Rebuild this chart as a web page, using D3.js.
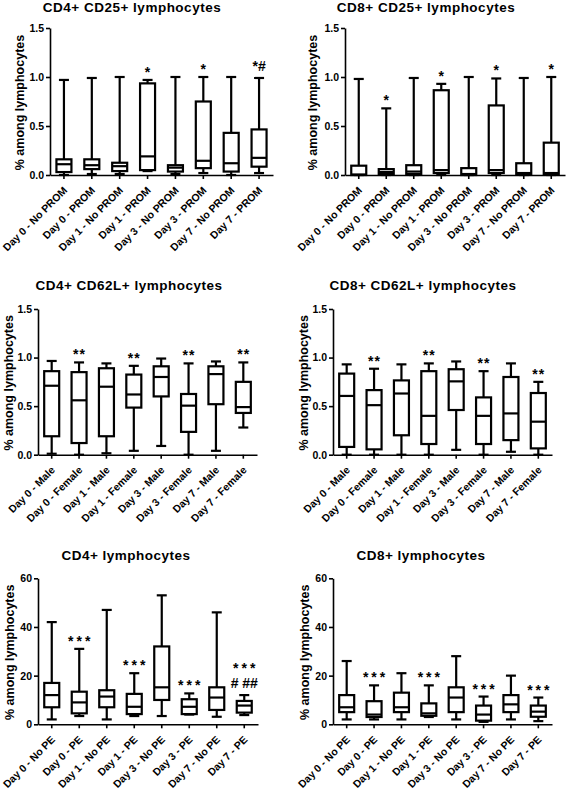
<!DOCTYPE html>
<html><head><meta charset="utf-8">
<script src="https://cdn.jsdelivr.net/npm/d3@7"></script>
<style>body{margin:0;background:#fff}svg{display:block}</style>
</head><body>
<svg id="c" width="567" height="791"></svg>
<script>
// ---------- categories ----------
const catsPROM = ["Day 0 - No PROM","Day 0 - PROM","Day 1 - No PROM","Day 1 - PROM","Day 3 - No PROM","Day 3 - PROM","Day 7 - No PROM","Day 7 - PROM"];
const catsSex  = ["Day 0 - Male","Day 0 - Female","Day 1 - Male","Day 1 - Female","Day 3 - Male","Day 3 - Female","Day 7 - Male","Day 7 - Female"];
const catsPE   = ["Day 0 - No PE","Day 0 - PE","Day 1 - No PE","Day 1 - PE","Day 3 - No PE","Day 3 - PE","Day 7 - No PE","Day 7 - PE"];

// ---------- tick values ----------
const ticksFrac = [0, 0.5, 1.0, 1.5];
const ticksPct  = [0, 20, 40, 60];

// ---------- CD4+ CD25+ ----------
const cd4cd25Min = [0.00, 0.01, 0.01, 0.04, 0.01, 0.02, 0.00, 0.02];
const cd4cd25Q1  = [0.03, 0.06, 0.04, 0.05, 0.035, 0.07, 0.035, 0.085];
const cd4cd25Med = [0.11, 0.10, 0.09, 0.19, 0.075, 0.145, 0.12, 0.175];
const cd4cd25Q3  = [0.16, 0.16, 0.125, 0.935, 0.10, 0.75, 0.43, 0.465];
const cd4cd25Max = [0.97, 0.99, 1.00, 0.97, 1.00, 1.00, 1.00, 0.99];
const cd4cd25Sig = ["", "", "", "*", "", "*", "", "*#"];

// ---------- CD8+ CD25+ ----------
const cd8cd25Min = [0, 0, 0, 0, 0, 0, 0, 0];
const cd8cd25Q1  = [0.0, 0.01, 0.01, 0.02, 0.0, 0.02, 0.005, 0.005];
const cd8cd25Med = [0.005, 0.03, 0.035, 0.05, 0.01, 0.05, 0.02, 0.02];
const cd8cd25Q3  = [0.095, 0.06, 0.10, 0.865, 0.07, 0.71, 0.12, 0.33];
const cd8cd25Max = [0.98, 0.68, 0.99, 0.93, 1.00, 0.985, 0.99, 1.00];
const cd8cd25Sig = ["", "*", "", "*", "", "*", "", "*"];

// ---------- CD4+ CD62L+ ----------
const cd4cd62Min = [0.01, 0.0, 0.015, 0.04, 0.09, 0.0, 0.04, 0.28];
const cd4cd62Q1  = [0.19, 0.12, 0.19, 0.485, 0.60, 0.235, 0.52, 0.43];
const cd4cd62Med = [0.71, 0.56, 0.70, 0.62, 0.80, 0.505, 0.83, 0.49];
const cd4cd62Q3  = [0.86, 0.85, 0.89, 0.825, 0.91, 0.625, 0.91, 0.75];
const cd4cd62Max = [0.965, 0.95, 0.94, 0.915, 0.99, 0.94, 0.96, 0.95];
const cd4cd62Sig = ["", "**", "", "**", "", "**", "", "**"];

// ---------- CD8+ CD62L+ ----------
const cd8cd62Min = [0.0, 0.0, 0.0, 0.0, 0.05, 0.0, 0.03, 0.0];
const cd8cd62Q1  = [0.08, 0.055, 0.20, 0.11, 0.46, 0.11, 0.15, 0.065];
const cd8cd62Med = [0.605, 0.51, 0.63, 0.40, 0.755, 0.40, 0.425, 0.34];
const cd8cd62Q3  = [0.835, 0.665, 0.765, 0.86, 0.88, 0.59, 0.80, 0.635];
const cd8cd62Max = [0.93, 0.885, 0.93, 0.94, 0.96, 0.86, 0.94, 0.75];
const cd8cd62Sig = ["", "**", "", "**", "", "**", "", "**"];

// ---------- CD4+ ----------
const cd4Min = [2, 3.4, 2, 3.4, 3.4, 4, 3.1, 3.8];
const cd4Q1  = [7, 4.5, 7, 4.2, 10, 4.2, 5.9, 4.8];
const cd4Med = [12, 9, 11.4, 7.2, 15.2, 7.2, 11, 7.7];
const cd4Q3  = [17, 13.4, 14, 12.5, 32, 10.3, 15.2, 9.6];
const cd4Max = [42, 31, 47, 21, 53, 12.7, 46, 12];
const cd4Sig = ["", "***", "", "***", "", "***", "", "***\n# ##"];

// ---------- CD8+ ----------
const cd8Min = [2, 2, 2, 3, 2, 1, 2, 1.3];
const cd8Q1  = [5, 3, 5, 3.5, 5, 1.5, 5, 3.1];
const cd8Med = [7, 4, 7, 4.5, 11, 4, 8.2, 5.2];
const cd8Q3  = [12, 9.5, 13, 8.6, 15.2, 7.7, 12, 7.7];
const cd8Max = [26, 16, 21, 16, 28, 11.4, 20, 11];
const cd8Sig = ["", "***", "", "***", "", "***", "", "***"];

const yLabel = "% among lymphocytes";

const panels = [
  {title:"CD4+ CD25+ lymphocytes", cats:catsPROM, mn:cd4cd25Min, q1:cd4cd25Q1, md:cd4cd25Med, q3:cd4cd25Q3, mx:cd4cd25Max, sig:cd4cd25Sig, ticks:ticksFrac, fmt:".1f",
   x0:50, x1:273, yTop:28, yBot:175, tx:132, ty:12, lx:20, ls:1},
  {title:"CD8+ CD25+ lymphocytes", cats:catsPROM, mn:cd8cd25Min, q1:cd8cd25Q1, md:cd8cd25Med, q3:cd8cd25Q3, mx:cd8cd25Max, sig:cd8cd25Sig, ticks:ticksFrac, fmt:".1f",
   x0:345, x1:565, yTop:28, yBot:175, tx:426, ty:12, lx:313, ls:1},
  {title:"CD4+ CD62L+ lymphocytes", cats:catsSex, mn:cd4cd62Min, q1:cd4cd62Q1, md:cd4cd62Med, q3:cd4cd62Q3, mx:cd4cd62Max, sig:cd4cd62Sig, ticks:ticksFrac, fmt:".1f",
   x0:38, x1:257, yTop:309, yBot:454.7, tx:129, ty:290, lx:9, ls:1},
  {title:"CD8+ CD62L+ lymphocytes", cats:catsSex, mn:cd8cd62Min, q1:cd8cd62Q1, md:cd8cd62Med, q3:cd8cd62Q3, mx:cd8cd62Max, sig:cd8cd62Sig, ticks:ticksFrac, fmt:".1f",
   x0:333, x1:552, yTop:309, yBot:454.7, tx:423, ty:290, lx:304, ls:1},
  {title:"CD4+ lymphocytes", cats:catsPE, mn:cd4Min, q1:cd4Q1, md:cd4Med, q3:cd4Q3, mx:cd4Max, sig:cd4Sig, ticks:ticksPct, fmt:"d",
   x0:38, x1:258, yTop:578.3, yBot:724.3, tx:126, ty:560, lx:10, ls:3},
  {title:"CD8+ lymphocytes", cats:catsPE, mn:cd8Min, q1:cd8Q1, md:cd8Med, q3:cd8Q3, mx:cd8Max, sig:cd8Sig, ticks:ticksPct, fmt:"d",
   x0:333, x1:552, yTop:578.3, yBot:724.3, tx:421, ty:560, lx:305, ls:3}
];

const FONT = "'Liberation Sans', Arial, sans-serif";
const SW = 2.2;
const svg = d3.select("#c");

panels.forEach(p => {
  const g = svg.append("g");
  const x = d3.scaleBand().domain(p.cats).range([p.x0, p.x1]).padding(0);
  const y = d3.scaleLinear().domain([0, d3.max(p.ticks)]).range([p.yBot, p.yTop]);
  const cx = c => x(c) + x.bandwidth() / 2;
  const bw = 15, cw = 10;

  // title
  g.append("text").attr("x", p.tx).attr("y", p.ty).attr("text-anchor", "middle")
    .style("font-family", FONT).style("font-weight", "bold").style("font-size", "13.5px")
    .style("letter-spacing", "0.5px").text(p.title);

  // y label
  g.append("text").attr("transform", `translate(${p.lx},${(p.yTop + p.yBot) / 2 + 1}) rotate(-90)`)
    .attr("text-anchor", "middle").attr("dy", "0.35em")
    .style("font-family", FONT).style("font-weight", "bold").style("font-size", "12.5px").text(yLabel);

  // y axis
  const ya = g.append("g").attr("transform", `translate(${p.x0},0)`)
    .call(d3.axisLeft(y).tickValues(p.ticks).tickSize(4).tickSizeOuter(0).tickPadding(2).tickFormat(d3.format(p.fmt)));
  ya.selectAll("path,line").attr("stroke", "#000").attr("stroke-width", 1.6);
  ya.selectAll("text").style("font-family", FONT).style("font-weight", "bold").style("font-size", "10.5px").attr("fill", "#000");

  // x axis
  const xa = g.append("g").attr("transform", `translate(0,${p.yBot})`)
    .call(d3.axisBottom(x).tickSize(4).tickSizeOuter(0));
  xa.selectAll("path,line").attr("stroke", "#000").attr("stroke-width", 1.6);
  xa.selectAll("text").remove();
  g.selectAll(".xl").data(p.cats).join("text")
    .attr("transform", c => `translate(${cx(c) + 4},${p.yBot + 16}) rotate(-45)`)
    .attr("text-anchor", "end")
    .style("font-family", FONT).style("font-weight", "bold").style("font-size", "10.5px").text(c => c);

  // boxes
  p.cats.forEach((c, i) => {
    const xc = cx(c);
    g.append("line").attr("x1", xc).attr("x2", xc).attr("y1", y(p.mn[i])).attr("y2", y(p.mx[i]))
      .attr("stroke", "#000").attr("stroke-width", SW);
    [p.mn[i], p.mx[i]].forEach(v => {
      g.append("line").attr("x1", xc - cw / 2).attr("x2", xc + cw / 2).attr("y1", y(v)).attr("y2", y(v))
        .attr("stroke", "#000").attr("stroke-width", SW);
    });
    g.append("rect").attr("x", xc - bw / 2).attr("width", bw)
      .attr("y", y(p.q3[i])).attr("height", Math.max(0, y(p.q1[i]) - y(p.q3[i])))
      .attr("fill", "#fff").attr("stroke", "#000").attr("stroke-width", SW);
    g.append("line").attr("x1", xc - bw / 2).attr("x2", xc + bw / 2).attr("y1", y(p.md[i])).attr("y2", y(p.md[i]))
      .attr("stroke", "#000").attr("stroke-width", SW);

    // significance marks
    if (p.sig[i]) {
      const lines = p.sig[i].split("\n").reverse();
      let base = y(p.mx[i]);
      lines.forEach((t, k) => {
        base = k === 0 ? base - (t.includes("#") ? 7 : 3) : base - 15;
        g.append("text").attr("x", xc + (t.includes("#") ? 0 : p.ls / 2)).attr("y", base)
          .attr("text-anchor", "middle")
          .style("font-family", FONT).style("font-weight", "bold").style("font-size", "14px")
          .style("letter-spacing", t.includes("#") ? "0px" : p.ls + "px")
          .text(t);
      });
    }
  });
});
</script>
</body></html>
